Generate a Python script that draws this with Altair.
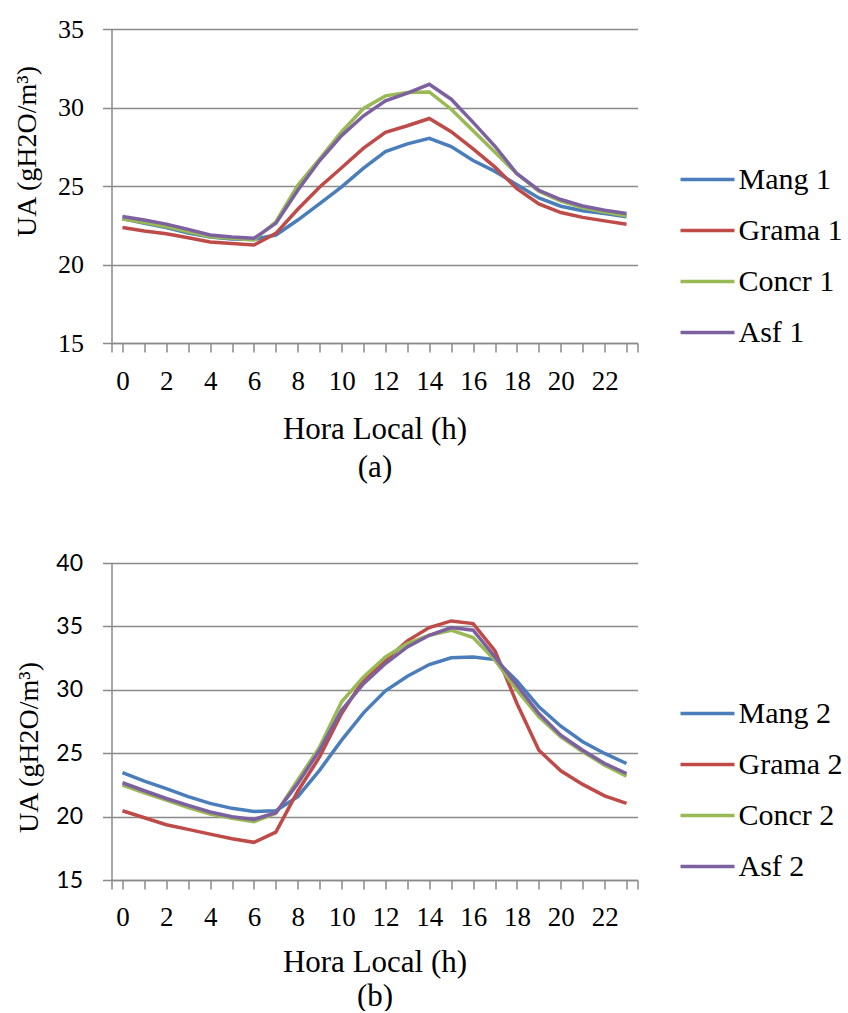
import altair as alt
import pandas as pd

hours = list(range(24))

names_a = ["Mang 1", "Grama 1", "Concr 1", "Asf 1"]
mang1 = [22.93, 22.62, 22.35, 22.0, 21.75, 21.62, 21.6, 21.88, 22.83, 23.88, 24.94, 26.14,
         27.19, 27.68, 28.04, 27.51, 26.62, 25.93, 25.08, 24.24, 23.71, 23.42, 23.25, 23.04]
grama1 = [22.36, 22.13, 21.96, 21.71, 21.43, 21.33, 21.24, 21.98, 23.52, 24.94, 26.16, 27.41,
          28.42, 28.84, 29.30, 28.46, 27.36, 26.20, 24.83, 23.86, 23.31, 23.00, 22.78, 22.57]
concr1 = [22.89, 22.68, 22.41, 22.09, 21.77, 21.67, 21.56, 22.72, 25.04, 26.73, 28.46, 29.94,
          30.74, 30.95, 30.99, 29.89, 28.52, 27.15, 25.78, 24.66, 24.03, 23.61, 23.35, 23.10]
asf1 = [23.06, 22.83, 22.57, 22.24, 21.88, 21.75, 21.67, 22.62, 24.73, 26.62, 28.21, 29.47,
        30.42, 30.91, 31.48, 30.53, 29.05, 27.53, 25.78, 24.73, 24.14, 23.73, 23.46, 23.25]

names_b = ["Mang 2", "Grama 2", "Concr 2", "Asf 2"]
mang2 = [23.46, 22.80, 22.20, 21.57, 21.04, 20.65, 20.41, 20.46, 21.57, 23.67, 26.03, 28.18,
         29.92, 31.07, 31.99, 32.52, 32.59, 32.38, 30.70, 28.66, 27.13, 25.90, 24.98, 24.19]
grama2 = [20.46, 19.91, 19.36, 18.99, 18.62, 18.26, 17.97, 18.78, 22.0, 24.72, 28.13, 30.81,
          32.33, 33.86, 34.91, 35.43, 35.22, 33.07, 28.92, 25.24, 23.61, 22.54, 21.64, 21.04]
concr2 = [22.48, 21.88, 21.30, 20.72, 20.20, 19.86, 19.60, 20.25, 22.88, 25.50, 29.05, 31.02,
          32.59, 33.64, 34.30, 34.70, 34.12, 32.33, 29.97, 27.87, 26.29, 25.11, 24.06, 23.19]
asf2 = [22.67, 22.04, 21.43, 20.88, 20.36, 19.99, 19.78, 20.30, 22.62, 25.24, 28.39, 30.49,
        32.07, 33.38, 34.30, 34.91, 34.70, 32.59, 30.36, 28.13, 26.42, 25.24, 24.19, 23.40]

colors = ["#4A7EBB", "#BE4B48", "#98B954", "#7D60A0"]
x_title = "Hora Local (h)"
y_title = "UA (gH2O/m³)"

GRID = "#8a8a8a"
SERIF = "Liberation Serif"
W = 526


def long_df(names, series):
    rows = []
    for k, (n, vals) in enumerate(zip(names, series)):
        for h, v in zip(hours, vals):
            rows.append({"hora": h, "ua": v, "serie": n, "k": k})
    return pd.DataFrame(rows)


def panel(df, names, ymin, ymax, width, height, caption, ylab_font, ylab_size,
          ylab_pad, ytitle_x, ytitle_y, xtitle_y, xlab_pad, cap_lh):
    xvals = [-0.5] + hours + [23.5]
    x = alt.X(
        "hora:Q",
        scale=alt.Scale(domain=[-0.5, 23.5], nice=False, zero=False),
        axis=alt.Axis(
            values=xvals,
            labelExpr="(datum.value >= 0 && datum.value % 2 == 0) ? datum.label : ''",
            labelOverlap=False, labelFlush=False, labelBound=False,
            grid=False, ticks=True, tickSize=9, tickColor=GRID, tickWidth=1.5,
            domainColor=GRID, domainWidth=1.5,
            labelFont=SERIF, labelFontSize=27, labelColor="black", labelPadding=xlab_pad,
            title=[x_title, caption], titleFont=SERIF, titleFontSize=31,
            titleFontWeight="normal", titleColor="black", titleLineHeight=cap_lh,
            titleX=width / 2, titleY=xtitle_y, titleAlign="center",
            titleBaseline="alphabetic",
        ),
    )
    y = alt.Y(
        "ua:Q",
        scale=alt.Scale(domain=[ymin, ymax], nice=False, zero=False),
        axis=alt.Axis(
            values=list(range(ymin, ymax + 1, 5)),
            grid=True, gridColor=GRID, gridWidth=1.5, gridOpacity=1,
            ticks=True, tickSize=9, tickColor=GRID, tickWidth=1.5,
            domainColor=GRID, domainWidth=1.5,
            labelFont=ylab_font, labelFontSize=ylab_size, labelColor="black",
            labelPadding=ylab_pad, labelAlign="right", labelBaseline="middle",
            title=y_title, titleFont=SERIF, titleFontSize=28, titleFontWeight="normal",
            titleColor="black", titleAngle=270, titleX=ytitle_x, titleY=ytitle_y,
            titleAlign="center", titleBaseline="middle",
        ),
    )
    color = alt.Color(
        "serie:N",
        scale=alt.Scale(domain=names, range=colors),
        sort=names,
        legend=alt.Legend(
            orient="none", legendX=width + 41, legendY=125, title=None,
            symbolType="stroke", symbolSize=2916, symbolStrokeWidth=3.5,
            labelFont=SERIF, labelFontSize=30, labelColor="black", labelOffset=2,
            clipHeight=51, rowPadding=0, padding=0, labelLimit=300,
        ),
    )
    return alt.Chart(df).mark_line(strokeWidth=3.5).encode(
        x=x, y=y, color=color, order=alt.Order("hora:Q"), detail="k:O"
    ).properties(width=width, height=height)


top = panel(long_df(names_a, [mang1, grama1, concr1, asf1]), names_a, 15, 35, W, 314,
            "(a)", SERIF, 26, 19, -84.5, 122, 95, 16, 38)
bottom = panel(long_df(names_b, [mang2, grama2, concr2, asf2]), names_b, 15, 40, W, 317,
               "(b)", "Lato", 23, 20, -82, 184, 91, 15, 34)

chart = alt.vconcat(top, bottom, spacing=70).resolve_scale(
    color="independent"
).resolve_legend(color="independent").properties(
    padding={"left": 12.5, "top": 16, "right": 0, "bottom": 0},
    background="white",
).configure_view(stroke=None)

chart.save("out.html", embed_options={"renderer": "svg", "actions": False})
